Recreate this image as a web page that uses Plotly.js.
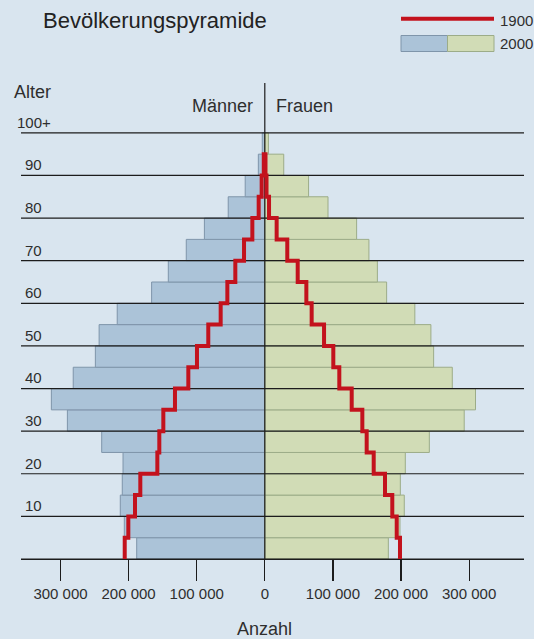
<!DOCTYPE html>
<html>
<head>
<meta charset="utf-8">
<script src="https://cdn.plot.ly/plotly-3.0.1.min.js"></script>
<style>
  html, body { margin: 0; padding: 0; background: #d9e5ef; }
  #chart { width: 534px; height: 639px; }
</style>
</head>
<body>
<div id="chart"></div>
<script>
// ---- data ----
const ageStart = [0, 5, 10, 15, 20, 25, 30, 35, 40, 45, 50, 55, 60, 65, 70, 75, 80, 85, 90, 95];
const male2000 = [188100, 206300, 212200, 209300, 208200, 239500, 289900, 313400, 281300, 248800,
                  243300, 216700, 166200, 141700, 115300, 88700, 53700, 28800, 9500, 3700];
const female2000 = [181400, 198500, 204800, 199000, 206300, 241600, 292800, 309400, 275300, 247900,
                    243900, 220300, 178900, 165300, 152900, 134800, 92800, 64300, 27800, 5300];
// 1900: age groups 0-4 ... 90-94
const male1900 = [205700, 200400, 190600, 182800, 157800, 154900, 149000, 131900, 112300, 99600,
                  83000, 64800, 55000, 43300, 30500, 18300, 9000, 4600, 1500];
const female1900 = [198500, 193700, 187200, 176500, 159900, 149600, 143200, 127600, 109400, 100600,
                    87000, 68800, 61000, 48300, 33000, 17400, 6200, 2500, 1000];
const xTickVals = [-300000, -200000, -100000, 0, 100000, 200000, 300000];
const xTickText = ["300 000", "200 000", "100 000", "0", "100 000", "200 000", "300 000"];
const ageTickVals = [10, 20, 30, 40, 50, 60, 70, 80, 90, 100];
const ageTickText = ["10", "20", "30", "40", "50", "60", "70", "80", "90", "100+"];
const gridVals = [0, 10, 20, 30, 40, 50, 60, 70, 80, 90, 100];
const legendLabels = ["1900", "2000"];

// ---- geometry ----
const W = 534, H = 639;
const M = { l: 21, r: 10, t: 83, b: 80 };
const pw = W - M.l - M.r, ph = H - M.t - M.b;
const px = x => (x - M.l) / pw;
const py = y => (H - M.b - y) / ph;
const xRange = [-358000, 380600];
const yRange = [0, 111.7];
const band = 5;

const FONT = '"Liberation Sans", Arial, sans-serif';
const TXT = '#2e2e2e';
const BLACK = '#1c1c1c';
const RED = '#c3121d';
const BLUE = '#abc3d8', BLUE_LINE = '#7f95aa';
const GREEN = '#d1dcb6', GREEN_LINE = '#9cac88';
const BG = '#d9e5ef';

const centers = ageStart.map(a => a + band / 2);

const maleBars = {
  type: 'bar', orientation: 'h',
  y: centers, x: male2000.map(v => -v), width: ageStart.map(() => band),
  marker: { color: BLUE, line: { color: BLUE_LINE, width: 1 } },
  hoverinfo: 'skip', showlegend: false
};
const femaleBars = {
  type: 'bar', orientation: 'h',
  y: centers, x: female2000.slice(), width: ageStart.map(() => band),
  marker: { color: GREEN, line: { color: GREEN_LINE, width: 1 } },
  hoverinfo: 'skip', showlegend: false
};

// grid lines (drawn above bars, below the 1900 line)
const gx = [], gy = [];
gridVals.forEach(v => { gx.push(xRange[0], xRange[1], null); gy.push(v, v, null); });
gx.push(0, 0); gy.push(yRange[0], yRange[1]);
const grid = {
  type: 'scatter', mode: 'lines', x: gx, y: gy,
  line: { color: BLACK, width: 1.2 }, hoverinfo: 'skip', showlegend: false
};

// 1900 step outline
const rx = [], ry = [];
const n = male1900.length;
for (let i = 0; i < n; i++) { rx.push(-male1900[i]); ry.push(ageStart[i]); }
rx.push(-male1900[n - 1]); ry.push(ageStart[n - 1] + band);
for (let i = n - 1; i >= 0; i--) { rx.push(female1900[i]); ry.push(ageStart[i] + band); }
rx.push(female1900[0]); ry.push(ageStart[0]);
const line1900 = {
  type: 'scatter', mode: 'lines', x: rx, y: ry,
  line: { color: RED, width: 4, shape: 'vh' },
  hoverinfo: 'skip', showlegend: false
};

const annotations = [];
const txt = (text, x, y, opts) => Object.assign({
  text, x, y, xref: 'paper', yref: 'paper', showarrow: false,
  font: { family: FONT, size: 18, color: TXT }, xanchor: 'left', yanchor: 'middle'
}, opts || {});

annotations.push(txt('Bevölkerungspyramide', px(41), py(20), { font: { family: FONT, size: 22, color: '#222' } }));
annotations.push(txt('Alter', px(12), py(92)));
annotations.push(txt('Männer', px(255), py(106), { xanchor: 'right' }));
annotations.push(txt('Frauen', px(274), py(106)));
annotations.push(txt('Anzahl', 0, py(629), { xref: 'x', xanchor: 'center' }));
annotations.push(txt(legendLabels[0], px(498), py(20), { font: { family: FONT, size: 15, color: TXT } }));
annotations.push(txt(legendLabels[1], px(498), py(43.5), { font: { family: FONT, size: 15, color: TXT } }));
ageTickVals.forEach((v, i) => {
  annotations.push({
    text: ageTickText[i], x: px(33.5), y: v + band / 2, xref: 'paper', yref: 'y',
    showarrow: false, xanchor: 'center', yanchor: 'middle',
    font: { family: FONT, size: 15, color: TXT }
  });
});

const shapes = [
  { type: 'line', xref: 'paper', yref: 'paper', x0: px(401), x1: px(494), y0: py(18.7), y1: py(18.7),
    line: { color: RED, width: 4 } },
  { type: 'rect', xref: 'paper', yref: 'paper', x0: px(401), x1: px(447.5), y0: py(35.5), y1: py(51.5),
    fillcolor: BLUE, line: { color: BLUE_LINE, width: 1 } },
  { type: 'rect', xref: 'paper', yref: 'paper', x0: px(447.5), x1: px(494), y0: py(35.5), y1: py(51.5),
    fillcolor: GREEN, line: { color: GREEN_LINE, width: 1 } }
];

const layout = {
  width: W, height: H, margin: M,
  paper_bgcolor: BG, plot_bgcolor: BG,
  barmode: 'overlay', bargap: 0,
  showlegend: false, hovermode: false,
  xaxis: {
    range: xRange, tickmode: 'array', tickvals: xTickVals, ticktext: xTickText,
    ticks: 'outside', ticklen: 21, tickwidth: 1.2, tickcolor: BLACK,
    showline: true, linecolor: BLACK, linewidth: 1.2,
    showgrid: false, zeroline: false, fixedrange: true,
    tickfont: { family: FONT, size: 15, color: TXT }
  },
  yaxis: {
    range: yRange, showgrid: false, zeroline: false, showticklabels: false,
    ticks: '', showline: false, fixedrange: true
  },
  annotations, shapes
};

Plotly.newPlot('chart', [maleBars, femaleBars, grid, line1900], layout, { staticPlot: true, displayModeBar: false });
</script>
</body>
</html>
